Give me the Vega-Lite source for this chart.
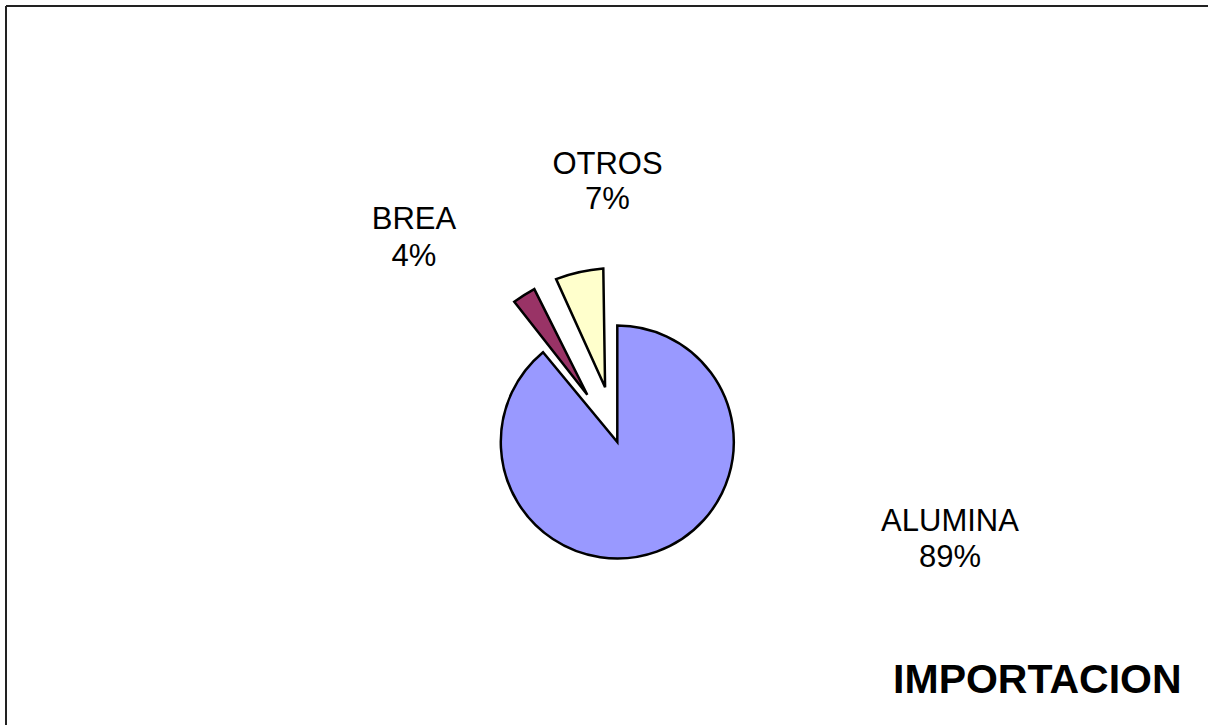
{
  "$schema": "https://vega.github.io/schema/vega-lite/v6.json",
  "width": 1222.6,
  "height": 872,
  "autosize": {"type": "none"},
  "padding": {"left": 6, "top": 6, "right": -20.6, "bottom": -153},
  "background": "white",
  "config": {"view": {"stroke": null}},
  "title": {
    "text": "IMPORTACION",
    "orient": "top",
    "anchor": "end",
    "offset": -729,
    "dx": -48,
    "baseline": "alphabetic",
    "font": "Liberation Sans",
    "fontSize": 41,
    "fontWeight": "bold",
    "color": "black"
  },
  "layer": [
    {
      "data": {"values": [{"marco": "superior"}]},
      "mark": {"type": "rule", "stroke": "#222222", "strokeWidth": 2},
      "encoding": {"y": {"value": 0}}
    },
    {
      "data": {"values": [{"marco": "izquierdo"}]},
      "mark": {"type": "rule", "stroke": "#222222", "strokeWidth": 2},
      "encoding": {"x": {"value": 0}}
    },
    {
      "data": {
        "values": [
          {"categoria": "ALUMINA", "valor": 89, "etiqueta": "ALUMINA\n89%"},
          {"categoria": "BREA", "valor": 4, "etiqueta": "BREA\n4%"},
          {"categoria": "OTROS", "valor": 7, "etiqueta": "OTROS\n7%"}
        ]
      },
      "encoding": {
        "theta": {"field": "valor", "type": "quantitative", "stack": true},
        "color": {
          "field": "categoria",
          "type": "nominal",
          "scale": {"domain": ["ALUMINA", "BREA", "OTROS"], "range": ["#9999FF", "#993366", "#FFFFCC"]},
          "legend": null
        }
      },
      "layer": [
        {
          "mark": {"type": "arc", "radius": 116.5, "stroke": "black", "strokeWidth": 2.5},
          "encoding": {"opacity": {"condition": {"test": "datum.categoria === 'ALUMINA'", "value": 1}, "value": 0}}
        },
        {
          "mark": {"type": "arc", "radius": 174, "radius2": 56, "padAngle": 0.1095, "stroke": "black", "strokeWidth": 2.5},
          "encoding": {"opacity": {"condition": {"test": "datum.categoria === 'BREA'", "value": 1}, "value": 0}}
        },
        {
          "mark": {"type": "arc", "radius": 174, "radius2": 56, "padAngle": 0.1533, "stroke": "black", "strokeWidth": 2.5},
          "encoding": {"opacity": {"condition": {"test": "datum.categoria === 'OTROS'", "value": 1}, "value": 0}}
        },
        {
          "mark": {"type": "text", "radius": 342.3, "thetaOffset": -0.988, "font": "Liberation Sans", "fontSize": 31, "lineBreak": "\n", "lineHeight": 36, "align": "center", "baseline": "middle"},
          "encoding": {
            "text": {"field": "etiqueta"},
            "color": {"value": "black"},
            "detail": {"field": "categoria"},
            "opacity": {"condition": {"test": "datum.categoria === 'ALUMINA'", "value": 1}, "value": 0}
          }
        },
        {
          "mark": {"type": "text", "radius": 301, "thetaOffset": -0.176, "font": "Liberation Sans", "fontSize": 31, "lineBreak": "\n", "lineHeight": 37, "align": "center", "baseline": "middle"},
          "encoding": {
            "text": {"field": "etiqueta"},
            "color": {"value": "black"},
            "detail": {"field": "categoria"},
            "opacity": {"condition": {"test": "datum.categoria === 'BREA'", "value": 1}, "value": 0}
          }
        },
        {
          "mark": {"type": "text", "radius": 277.2, "thetaOffset": 0.1845, "font": "Liberation Sans", "fontSize": 31, "lineBreak": "\n", "lineHeight": 35, "align": "center", "baseline": "middle"},
          "encoding": {
            "text": {"field": "etiqueta"},
            "color": {"value": "black"},
            "detail": {"field": "categoria"},
            "opacity": {"condition": {"test": "datum.categoria === 'OTROS'", "value": 1}, "value": 0}
          }
        }
      ]
    }
  ]
}
